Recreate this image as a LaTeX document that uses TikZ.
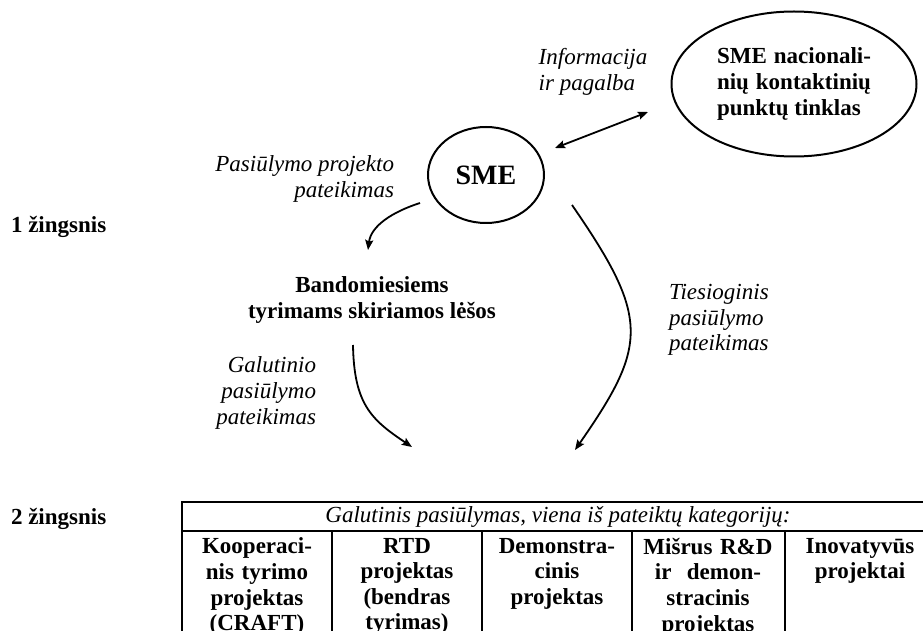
\documentclass[tikz,border=0pt]{standalone}
\usepackage{fontspec}
\setmainfont{Liberation Serif}
\usetikzlibrary{arrows.meta, shapes.geometric}
\tikzset{
  every picture/.style={line width=1pt},
  bubble/.style={draw, ellipse, inner sep=0pt, font=\bfseries},
  itxt/.style={font=\fontsize{11.5}{12.8}\selectfont\itshape, inner sep=0pt},
  boldtxt/.style={font=\fontsize{11.5}{12.8}\selectfont\bfseries, inner sep=0pt},
  cell/.style={boldtxt, align=center, text width=70pt, anchor=north, inner sep=3pt},
  arrow/.style={-{Stealth[length=5pt, width=4pt, inset=0.8pt]}, line width=0.9pt},
  dblarrow/.style={{Stealth[length=5pt, width=4pt, inset=0.8pt]}-{Stealth[length=5pt, width=4pt, inset=0.8pt]}, line width=0.9pt},
}

\begin{document}
\begin{tikzpicture}[x=0.5pt, y=-0.5pt]
  \path[use as bounding box, clip] (0,0) rectangle (923,631);

  \node[boldtxt, anchor=base west] (st1) at (10,233) {1 žingsnis};
  \node[boldtxt, anchor=base west] (st2) at (10,524) {2 žingsnis};

  \node[bubble, minimum width=58pt, minimum height=48pt, font=\fontsize{14}{16}\selectfont\bfseries] (sme) at (486,175) {SME};
  \node[bubble, boldtxt, align=left, minimum width=122.5pt, minimum height=72.5pt] (net) at (794,84)
    {\makebox[77pt][s]{SME nacionali-}\\\makebox[77pt][s]{nių kontaktinių}\\punktų tinklas};

  \node[itxt, align=left] (info) at (593,72) {Informacija\\ir pagalba};
  \node[itxt, align=right, anchor=east] (pp) at (395,179) {Pasiūlymo projekto\\pateikimas};
  \node[boldtxt, align=center] (fund) at (372,300) {Bandomiesiems\\tyrimams skiriamos lėšos};
  \node[itxt, align=right, anchor=east] (gp) at (317,393) {Galutinio\\pasiūlymo\\pateikimas};
  \node[itxt, align=left, anchor=west] (tp) at (668,320) {Tiesioginis\\pasiūlymo\\pateikimas};

  \coordinate (d1) at (555,148);
  \coordinate (d2) at (648,112);
  \draw[dblarrow] (d1) -- (d2);

  \coordinate (a1) at (420,203);
  \coordinate (a2) at (368,250);
  \draw[arrow] (a1) .. controls (392,212) and (371,226) .. (a2);

  \coordinate (b1) at (353,345);
  \coordinate (b2) at (412,447);
  \draw[arrow] (b1) .. controls (354,405) and (372,420) .. (b2);

  \coordinate (c1) at (572,205);
  \coordinate (c2) at (575,450);
  \draw[arrow] (c1) .. controls (650,318) and (648,345) .. (c2);

  \draw (935,502) -- (182,502) -- (182,640);
  \draw (182,531) -- (935,531);
  \foreach \cx in {332,482,632,785}
    \draw (\cx,531) -- (\cx,640);

  \node[itxt, anchor=base] (head) at (558,523) {Galutinis pasiūlymas, viena iš pateiktų kategorijų:};
  \node[cell] (k1) at (257,531) {Kooperaci-\\nis tyrimo\\projektas\\(CRAFT)};
  \node[cell] (k2) at (407,531) {RTD\\projektas\\(bendras\\tyrimas)};
  \node[cell] (k3) at (557,531) {Demonstra-\\cinis\\projektas};
  \node[cell] (k4) at (708,531) {Mišrus R\&D\\ir~~demon-\\stracinis\\projektas};
  \node[cell] (k5) at (860,531) {Inovatyvūs\\projektai};
\end{tikzpicture}
\end{document}
